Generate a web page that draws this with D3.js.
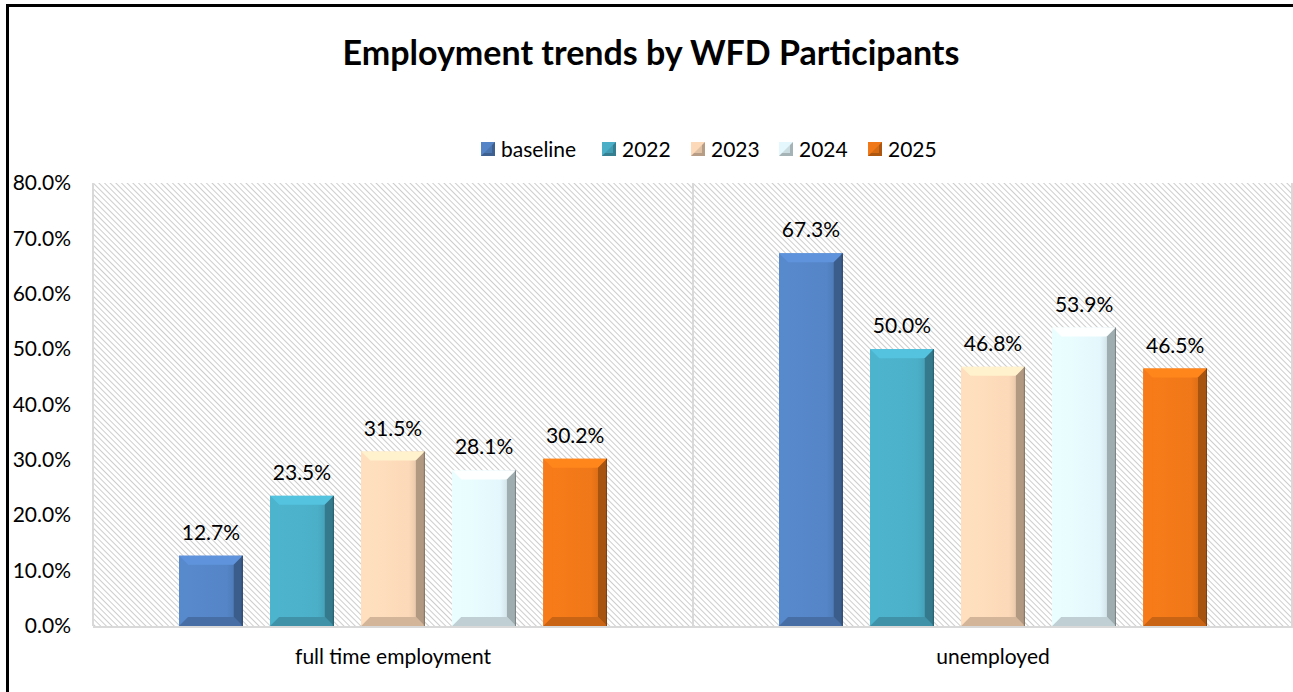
<html>
  <head>
    <script src="https://d3js.org/d3.v7.min.js"></script>
    <style>
      body { margin: 0; background: #fff; }
      text { font-family: Lato, "Liberation Sans", sans-serif; fill: #000; }
    </style>
  </head>
  <body>
    <svg id="chart" width="1293" height="692"></svg>
    <script>
      // data
      const categories = ["full time employment", "unemployed"];
      const seriesNames = ["baseline", "2022", "2023", "2024", "2025"];
      const seriesColors = ["#5585c7", "#4bafc8", "#fcd9b8", "#e4f7fc", "#f07818"];
      const values = {
        baseline: [12.7, 67.3],
        "2022": [23.5, 50.0],
        "2023": [31.5, 46.8],
        "2024": [28.1, 53.9],
        "2025": [30.2, 46.5]
      };
      const yTicks = [0, 10, 20, 30, 40, 50, 60, 70, 80];

      const svg = d3.select("svg#chart");
      const plot = { left: 93, right: 1293, top: 183, bottom: 626 };
      const fs = "21px";

      // outer frame (right / bottom edges fall outside the picture)
      svg.append("rect")
        .attr("x", 7.5).attr("y", 5.5)
        .attr("width", 1300).attr("height", 700)
        .attr("fill", "none").attr("stroke", "#000").attr("stroke-width", 3);

      svg.append("text")
        .attr("x", 651).attr("y", 65)
        .attr("text-anchor", "middle")
        .style("font-size", "34px").style("font-weight", "bold")
        .text("Employment trends by WFD Participants");

      // hatched plot background
      const defs = svg.append("defs");
      const pat = defs.append("pattern")
        .attr("id", "hatch").attr("patternUnits", "userSpaceOnUse")
        .attr("width", 4).attr("height", 4)
        .attr("patternTransform", "rotate(-45)");
      pat.append("rect").attr("width", 4).attr("height", 4).attr("fill", "#fff");
      pat.append("line").attr("x1", 0).attr("y1", 0).attr("x2", 0).attr("y2", 4)
        .attr("stroke", "#c8c8c8").attr("stroke-width", 1.8);

      svg.append("rect")
        .attr("x", plot.left).attr("y", plot.top)
        .attr("width", plot.right - plot.left).attr("height", plot.bottom - plot.top)
        .attr("fill", "url(#hatch)");

      const y = d3.scaleLinear().domain([0, 80]).range([plot.bottom, plot.top]);
      const x0 = d3.scaleBand().domain(categories).range([plot.left, plot.right]);
      const x1 = d3.scaleBand().domain(seriesNames)
        .range([86, x0.bandwidth() - 86]).paddingInner(0.3);

      // category divider lines + axis
      const grid = svg.append("g");
      [plot.left, plot.left + x0.bandwidth(), plot.right - 1].forEach((gx) => {
        grid.append("line")
          .attr("x1", gx).attr("x2", gx).attr("y1", plot.top).attr("y2", plot.bottom)
          .attr("stroke", "#d9d9d9").attr("stroke-width", 2);
      });
      grid.append("line")
        .attr("x1", plot.left).attr("x2", plot.right)
        .attr("y1", plot.bottom + 1).attr("y2", plot.bottom + 1)
        .attr("stroke", "#d9d9d9").attr("stroke-width", 2);

      // y axis labels
      const yAxis = d3.axisLeft(y).tickValues(yTicks)
        .tickFormat((d) => d3.format(".1f")(d) + "%").tickSize(0).tickPadding(0);
      const yg = svg.append("g")
        .attr("transform", `translate(71,0)`)
        .call(yAxis);
      yg.select(".domain").remove();
      yg.selectAll("text").style("font-size", fs).style("font-family", "Lato, sans-serif")
        .attr("fill", "#000");

      // x axis labels
      const xAxis = d3.axisBottom(x0).tickSize(0).tickPadding(0);
      const xg = svg.append("g")
        .attr("transform", `translate(0,${plot.bottom + 23})`)
        .call(xAxis);
      xg.select(".domain").remove();
      xg.selectAll("text").style("font-size", fs).style("font-family", "Lato, sans-serif")
        .attr("fill", "#000");

      // gradients for bevelled bars
      seriesNames.forEach((s, i) => {
        const c = d3.color(seriesColors[i]);
        const g = defs.append("linearGradient").attr("id", "face" + i)
          .attr("x1", 0).attr("x2", 1).attr("y1", 0).attr("y2", 0);
        g.append("stop").attr("offset", "0%").attr("stop-color", c.brighter(0.1));
        g.append("stop").attr("offset", "75%").attr("stop-color", c);
        g.append("stop").attr("offset", "100%").attr("stop-color", c.darker(0.5));
      });

      const bars = [];
      categories.forEach((cat, ci) => {
        seriesNames.forEach((s, si) => {
          bars.push({ cat: cat, series: s, si: si, value: values[s][ci] });
        });
      });

      const b = 9;
      const barG = svg.append("g").selectAll("g.bar").data(bars).join("g").attr("class", "bar")
        .attr("transform", (d) => `translate(${x0(d.cat) + x1(d.series)},${y(d.value)})`);

      barG.each(function (d) {
        const g = d3.select(this);
        const w = x1.bandwidth();
        const h = y(0) - y(d.value);
        const c = d3.color(seriesColors[d.si]);
        g.append("rect").attr("width", w).attr("height", h).attr("fill", `url(#face${d.si})`);
        // top
        g.append("polygon")
          .attr("points", `0,0 ${w},0 ${w - b},${b} ${b},${b}`)
          .attr("fill", c.brighter(0.3));
        // left
        g.append("polygon")
          .attr("points", `0,0 ${b},${b} ${b},${h - b} 0,${h}`)
          .attr("fill", c.brighter(0.08));
        // right
        g.append("polygon")
          .attr("points", `${w},0 ${w},${h} ${w - b},${h - b} ${w - b},${b}`)
          .attr("fill", c.darker(1.0));
        // bottom
        g.append("polygon")
          .attr("points", `0,${h} ${w},${h} ${w - b},${h - b} ${b},${h - b}`)
          .attr("fill", c.darker(0.5));
        // thin dark outline on the right edge
        g.append("line").attr("x1", w - 0.5).attr("x2", w - 0.5).attr("y1", 0).attr("y2", h)
          .attr("stroke", c.darker(1.8)).attr("stroke-width", 1);
      });

      // data labels
      svg.append("g").selectAll("text").data(bars).join("text")
        .attr("x", (d) => x0(d.cat) + x1(d.series) + x1.bandwidth() / 2)
        .attr("y", (d) => y(d.value) - 16)
        .attr("text-anchor", "middle")
        .style("font-size", fs)
        .text((d) => d3.format(".1f")(d.value) + "%");

      // legend
      const legendX = [481, 602, 691, 779, 868];
      const legend = svg.append("g").selectAll("g").data(seriesNames).join("g")
        .attr("transform", (d, i) => `translate(${legendX[i]},142)`);
      legend.each(function (d, i) {
        const g = d3.select(this);
        const c = d3.color(seriesColors[i]);
        const s = 14;
        g.append("rect").attr("width", s).attr("height", s).attr("fill", c);
        g.append("polygon").attr("points", `${s},0 ${s},${s} 0,${s}`).attr("fill", c.darker(0.9));
        g.append("polygon").attr("points", `3,3 ${s - 3},3 ${s - 3},${s - 3} 3,${s - 3}`)
          .attr("fill", c).attr("opacity", 0.6);
      });
      legend.append("text").attr("x", 20).attr("y", 15)
        .style("font-size", fs).text((d) => d);
    </script>
  </body>
</html>
